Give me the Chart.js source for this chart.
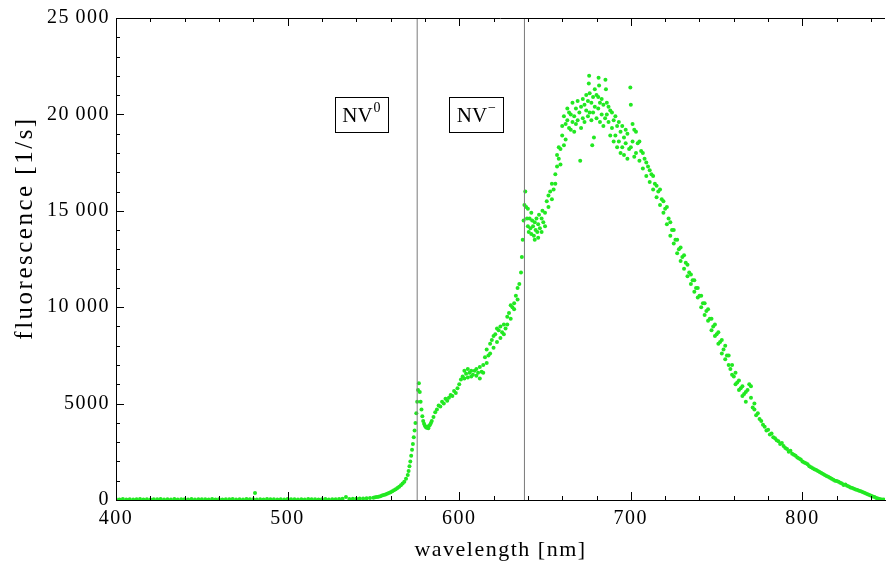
<!DOCTYPE html>
<html lang="en">
<head>
<meta charset="UTF-8">
<title>NV fluorescence spectrum</title>
<script src="https://cdn.jsdelivr.net/npm/chart.js"></script>
<style>
  html, body { margin: 0; padding: 0; background: #fff; }
  canvas { display: block; }
</style>
</head>
<body>
<canvas id="spectrum" width="889" height="570"></canvas>
<script>
// [wavelength nm, counts 1/s]
const baseline = [[400,40],[402,25],[404,50],[406,30],[408,45],[410,20],[412,35],[414,55],[416,30],[418,40],[420,25],[422,45],[424,35],[426,50],[428,20],[430,40],[432,30],[434,55],[436,25],[438,45],[440,35],[442,30],[444,50],[446,20],[448,40],[450,35],[452,45],[454,25],[456,50],[458,30],[460,40],[462,20],[464,45],[466,35],[468,55],[470,30],[472,40],[474,25],[476,50],[478,35],[480,45],[481,360],[482,30],[484,40],[486,20],[488,50],[490,35],[492,45],[494,25],[496,40],[498,30],[500,55],[502,35],[504,45],[506,20],[508,40],[510,30],[512,50],[514,35],[516,45],[518,25],[520,40],[522,55],[524,30],[526,45],[528,35],[530,50],[532,60],[534,150],[536,55],[538,70],[540,60],[542,80],[544,75],[546,90],[548,110],[550,120]];

const zplRise = [[551,140],[552,160],[553,170],[554,200],[555,230],[556,260],[557,290],[558,320],[559,360],[560,400],[561,450],[562,500],[563,560],[564,620],[565,690],[566,760],[567,850],[568,950],[569,1100],[570,1300],[570.5,1500],[571,1750],[571.5,2000],[572,2300],[572.5,2600],[573,2900],[573.5,3250],[574,3600],[574.5,4000],[575,4500],[575.5,5100],[576,5700],[576.5,6050],[577,5600],[577.5,5100],[578,4700],[578.5,4350],[579,4100],[579.5,3950],[580,3850],[580.5,3780],[581,3750],[581.5,3800],[582,3720],[582.5,3850],[583,3900],[583.5,4000],[584,4100],[585,4300],[586,4550],[587,4700],[588,4900],[589,4850],[590,5100],[591,5000],[592,5250],[593,5150],[594,5300],[595,5450],[596,5400],[597,5650],[598,5550],[599,5800],[600,6000]];

const sideband = [[601,6250],[602,6400],[603,6300],[603,6700],[604,6550],[605,6350],[605,6800],[606,6600],[607,6400],[607,6700],[608,6500],[609,6700],[610,6450],[610,6800],[611,6600],[612,6900],[612,6300],[613,6650],[614,7000],[614,6600],[615,7400],[616,7800],[616,7100],[617,7500],[618,8100],[618,7600],[619,8300],[620,7900],[620,8500],[621,8600],[622,8200],[622,8900],[623,8800],[624,8400],[624,9000],[625,8700],[626,9100],[626,8600],[627,8900],[628,9500],[628,9100],[629,9700],[630,9400],[630,10100],[631,10000],[632,10200],[632,9900],[633,10600],[634,10400],[634,11000],[635,11200],[636,11800],[636.5,12600],[637,13500],[637.5,14500],[638,15300],[638.5,16000],[639,15200],[639.5,14600],[640,14200],[640,15100],[640.5,13900],[641,14600],[641.5,14100],[642,13800],[642,14900],[642.5,14500],[643,14200],[643.5,13700],[644,14400],[644,13500],[644.5,14000],[645,14600],[645.5,13900],[646,14300],[646,13600],[646.5,14800],[647,14100],[648,14600],[648,13900],[648.5,15000],[649,14400],[650,14900],[650,14200],[651,15500],[652,15200],[652,15800],[653,16000],[654,16400],[654,15600],[655,16100],[656,16900],[656,16400],[657,17300],[657,17900]];

const peak = [[658,17700],[658,18300],[659,18200],[659,17400],[660,18900],[660,19400],[661,18400],[661,19900],[662,19500],[662,18700],[663,19700],[663,20300],[664,19300],[664,20100],[665,20000],[665,19200],[666,19600],[666,20600],[667,19900],[667,19100],[668,20300],[668,19500],[669,19700],[669,20700],[670,20100],[670.5,17600],[671,20400],[671,19300],[672,19800],[672,20800],[673,20500],[673,19600],[674,20200],[674,21000],[675,20700],[675,19900],[675.5,21600],[675.7,22000],[676,20100],[676,21100],[677,20600],[677,19700],[677.5,18400],[678,20900],[678,20100],[678.5,18800],[679,20400],[679,21300],[680,21000],[680,19800],[681,20300],[681,20900],[681.2,21900],[681.5,21500],[682,20600],[682,19600],[683,20000],[683,20800],[684,20500],[684,19400],[685,19800],[685.2,21800],[685.5,21300],[686,20000],[686,20600],[687,19600],[687,20400],[688,20200],[688,18900],[689,19300],[689,20100],[690,19700],[690,18600],[691,18900],[691,19900],[692,19400],[692,18300],[693,18600],[693,19600],[694,19100],[694,18000],[695,18300],[695,19400],[696,18800],[696,17900],[697,18500],[697,19200],[698,19000],[698,17700],[699,18200],[699.7,21400],[700,20500],[700,18300],[701,18600],[701,19500],[702,19200],[702,17800],[703,18000],[703,19100],[704,18500],[705,17600],[705,18600]];

const tail = [[706,18100],[707,17200],[707,18000],[708,17700],[709,16800],[709,17500],[710,17300],[711,16500],[711,17100],[712,16900],[713,16100],[713,16800],[714,16400],[715,15700],[715,16300],[716,16000],[717,15300],[717,16100],[718,15600],[719,14900],[719,15500],[720,15100],[721,14300],[721,15200],[722,14600],[723,13700],[723,14400],[724,14000],[725,13300],[725,14000],[726,13500],[727,12800],[727,13500],[728,13000],[729,12400],[729,13100],[730,12600],[731,12000],[731,12700],[732,12300],[733,11600],[733,12200],[734,11800],[735,11200],[735,11700],[736,11400],[737,10800],[737,11400],[738,11000],[739,10500],[739,11000],[740,10600],[741,10000],[741,10600],[742,10200],[743,9600],[743,10200],[744,9800],[745,9300],[745,9900],[746,9400],[747,8800],[747,9400],[748,9000],[749,8500],[749,9100],[750,8600],[751,8100],[751,8700],[752,8200],[753,7600],[753,8300],[754,7800],[755,7300],[755,8000],[756,7500],[757,7000],[757,7500],[758,6800],[759,6500],[759,7000],[760,6400],[761,6000],[761,6600],[762,6100],[763,5700],[763,6200],[764,5800],[765,5400],[765,5900],[766,5500],[767,5100],[767,5600],[768,5700],[769,6000],[770,5300],[770,5900],[771,4800],[772,4700],[772,5000],[773,4400],[774,4500],[775,4200],[776,4100],[777,3900],[778,3800],[779,3600],[780,3650],[781,3400],[782,3450],[783,3250],[784,3200],[785,3100],[786,3050],[787,2900],[788,2950],[789,2800],[790,2700],[791,2650],[792,2500],[793,2550],[794,2400],[795,2350],[796,2300],[797,2200],[798,2150],[799,2100],[800,2000],[801,1950],[802,1900],[803,1850],[804,1750],[805,1700],[806,1650],[807,1600],[808,1550],[809,1500],[810,1450],[811,1400],[812,1350],[813,1300],[814,1250],[815,1200],[816,1150],[817,1100],[818,1050],[819,1000],[820,980],[821,950],[822,900],[823,850],[824,780],[825,800],[826,740],[827,700],[828,650],[829,620],[830,580],[831,550],[832,520],[833,480],[834,450],[835,410],[836,380],[837,340],[838,300],[839,260],[840,220],[841,180],[842,150],[843,110],[844,80],[845,50],[846,30],[847,20],[848,10]];

const zplLines = [575.5, 638];       // NV0 and NV- zero phonon lines
const zplLabels = [
  { text: 'NV', sup: '0', x: 543, y: 20000 },
  { text: 'NV', sup: '\u2212', x: 610, y: 20000 }
];

const xMajorTicks = [400, 500, 600, 700, 800];
const xMinorTicks = [420, 440, 460, 480, 520, 540, 560, 580, 620, 640, 660, 680, 720, 740, 760, 780, 820, 840];
const yMajorTicks = [0, 5000, 10000, 15000, 20000, 25000];
const yTickLabels = ['0', '5000', '10\u2009000', '15\u2009000', '20\u2009000', '25\u2009000'];
const yMinorTicks = [1000, 2000, 3000, 4000, 6000, 7000, 8000, 9000, 11000, 12000, 13000, 14000, 16000, 17000, 18000, 19000, 21000, 22000, 23000, 24000];
const yTitle = 'fluorescence [1/s]';

const serif = "'Liberation Serif', 'Times New Roman', serif";

const toPoints = arr => arr.map(p => ({ x: p[0], y: p[1] }));
const spectrum = [].concat(toPoints(baseline), toPoints(zplRise), toPoints(sideband), toPoints(peak), toPoints(tail));

// slightly wider lettering for the axis text
const spacing = {
  id: 'spacing',
  beforeDraw(chart) { chart.ctx.letterSpacing = '1.5px'; },
  afterDraw(chart) { chart.ctx.letterSpacing = '0px'; }
};

// inward ticks, top frame, zpl labels, y title
const frameTicks = {
  id: 'frameTicks',
  afterDatasetsDraw(chart) {
    const { ctx, chartArea: { left, right, top, bottom }, scales: { x, y } } = chart;
    ctx.save();
    ctx.letterSpacing = '0px';
    ctx.strokeStyle = '#000';
    ctx.lineWidth = 1;
    ctx.beginPath();
    ctx.moveTo(left, top + 0.5);
    ctx.lineTo(right, top + 0.5);
    const xt = (v, len) => {
      const px = Math.round(x.getPixelForValue(v)) + 0.5;
      ctx.moveTo(px, bottom); ctx.lineTo(px, bottom - len);
      ctx.moveTo(px, top); ctx.lineTo(px, top + len);
    };
    const yt = (v, len) => {
      const py = Math.round(y.getPixelForValue(v)) + 0.5;
      ctx.moveTo(left, py); ctx.lineTo(left + len, py);
    };
    xMajorTicks.forEach(v => xt(v, 8));
    xMinorTicks.forEach(v => xt(v, 4));
    yMajorTicks.forEach(v => yt(v, 8));
    yMinorTicks.forEach(v => yt(v, 4));
    ctx.stroke();

    zplLabels.forEach(l => {
      const cx = x.getPixelForValue(l.x);
      const cy = y.getPixelForValue(l.y);
      ctx.font = '21px ' + serif;
      const w1 = ctx.measureText(l.text).width;
      ctx.font = '14px ' + serif;
      const w2 = ctx.measureText(l.sup).width;
      const tw = w1 + w2 + 1;
      const bw = Math.round(tw + 15), bh = 35;
      const bx = Math.round(cx - bw / 2) + 0.5, by = Math.round(cy - bh / 2) + 0.5;
      ctx.fillStyle = '#fff';
      ctx.fillRect(bx, by, bw, bh);
      ctx.strokeRect(bx, by, bw, bh);
      ctx.fillStyle = '#000';
      ctx.textBaseline = 'alphabetic';
      ctx.textAlign = 'left';
      ctx.font = '21px ' + serif;
      ctx.fillText(l.text, cx - tw / 2, cy + 8);
      ctx.font = '14px ' + serif;
      ctx.fillText(l.sup, cx - tw / 2 + w1 + 1, cy - 2);
    });

    // rotated y axis title
    ctx.translate(25, 229);
    ctx.rotate(-Math.PI / 2);
    ctx.letterSpacing = '2.5px';
    ctx.font = '25px ' + serif;
    ctx.textAlign = 'center';
    ctx.textBaseline = 'middle';
    ctx.fillText(yTitle, 1, 0);
    ctx.restore();
  }
};

new Chart(document.getElementById('spectrum'), {
  type: 'scatter',
  data: {
    datasets: [
      {
        type: 'line',
        data: [{ x: zplLines[0], y: 0 }, { x: zplLines[0], y: 25000 }],
        borderColor: '#7a7a7a', borderWidth: 1, pointRadius: 0
      },
      {
        type: 'line',
        data: [{ x: zplLines[1], y: 0 }, { x: zplLines[1], y: 25000 }],
        borderColor: '#7a7a7a', borderWidth: 1, pointRadius: 0
      },
      {
        data: spectrum,
        pointRadius: 2,
        pointBackgroundColor: '#22e822',
        pointBorderWidth: 0
      }
    ]
  },
  options: {
    responsive: false,
    animation: false,
    layout: { padding: { top: 17, right: 0, left: 0, bottom: 0 } },
    plugins: { legend: { display: false }, tooltip: { enabled: false } },
    scales: {
      x: {
        type: 'linear',
        min: 400,
        max: 848.1,
        afterBuildTicks: s => { s.ticks = xMajorTicks.map(v => ({ value: v })); },
        afterFit: s => { s.height = 70; },
        grid: { display: false, drawTicks: false },
        border: { display: true, color: '#000', width: 1 },
        ticks: { color: '#000', padding: 7, maxRotation: 0, font: { family: serif, size: 20 } },
        title: { display: true, text: 'wavelength [nm]', color: '#000', padding: { top: 0, bottom: 7 }, font: { family: serif, size: 22 } }
      },
      y: {
        min: 0,
        max: 25000,
        afterBuildTicks: s => { s.ticks = yMajorTicks.map(v => ({ value: v })); },
        afterFit: s => { s.width = 116; },
        grid: { display: false, drawTicks: false },
        border: { display: true, color: '#000', width: 1 },
        ticks: {
          color: '#000', padding: 6, font: { family: serif, size: 20 },
          callback: v => yTickLabels[yMajorTicks.indexOf(v)]
        },
        title: { display: false }
      }
    }
  },
  plugins: [spacing, frameTicks]
});
</script>
</body>
</html>
